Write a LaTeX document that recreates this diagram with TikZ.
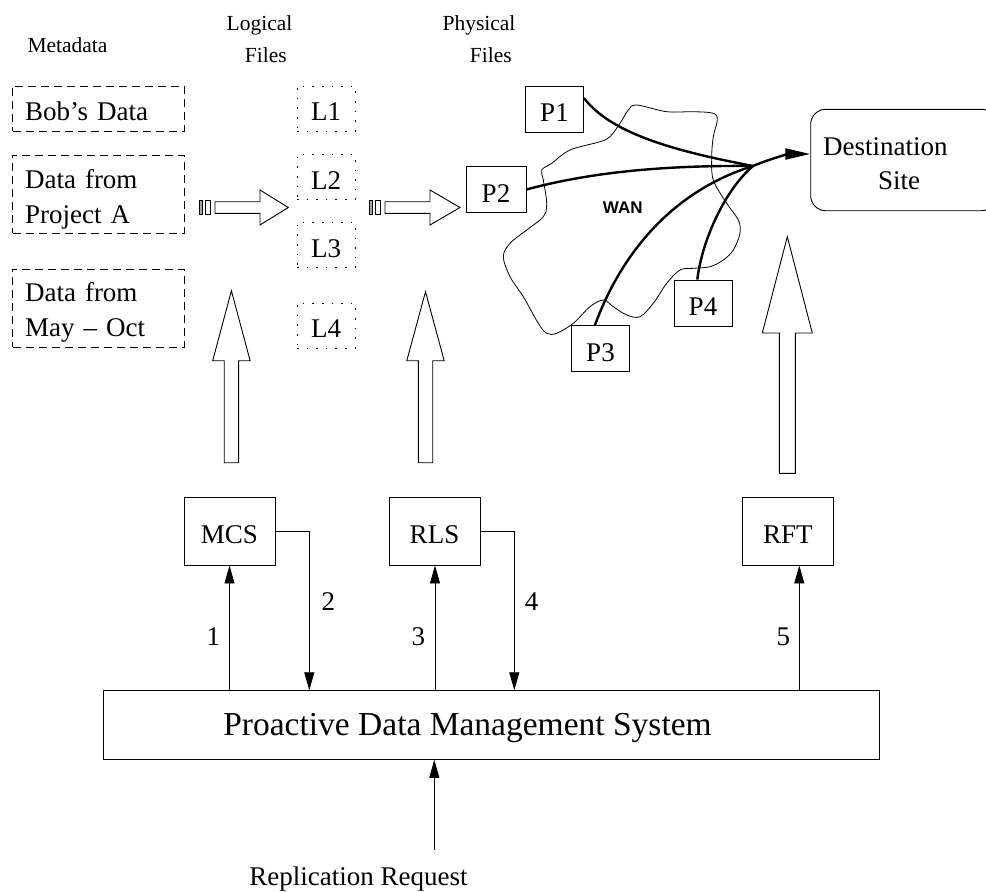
\documentclass[tikz,border=0pt]{standalone}
\usepackage{fontspec}
\setmainfont{Liberation Serif}
\newfontfamily\wanfont{Liberation Sans}
\usetikzlibrary{arrows.meta}
\newcommand{\boxfont}{\fontsize{27}{35}\selectfont}
\newcommand{\headfont}{\fontsize{21.5}{28}\selectfont}
\newcommand{\sysfont}{\fontsize{33.5}{40}\selectfont}

\begin{document}
\begin{tikzpicture}[x=1pt,y=-1pt,
  every node/.style={font=\boxfont, inner sep=0pt},
  mdbox/.style={draw, line width=0.9pt, dash pattern=on 8pt off 5pt,
    text width=146.7pt, inner xsep=12.3pt, align=left, minimum height=45pt},
  lbox/.style={draw, line width=0.9pt, dash pattern=on 1.6pt off 8pt,
    minimum width=58pt, minimum height=45pt, text height=24.4pt, text depth=0pt},
  pbox/.style={draw, fill=white, line width=0.9pt, minimum width=58pt,
    minimum height=46pt, text height=25pt, text depth=0pt},
  svc/.style={draw, line width=0.9pt, minimum width=91pt, minimum height=68pt,
    text height=24.6pt, text depth=0pt},
  arr/.style={-{Triangle[length=18pt,width=10pt]}, line width=0.9pt},
  flow/.style={line width=2.4pt},
  hollow/.style={draw, fill=white, line width=0.9pt, line join=miter},
  tailfill/.style={draw, fill=gray!70, line width=0.6pt},
  tailopen/.style={draw, fill=white, line width=0.6pt}
]
\useasboundingbox (0,0) rectangle (986,892);

% column headings
\node[font=\headfont, anchor=base] (hmeta) at (67.5,52) {Metadata};
\node[font=\headfont, anchor=base] (hlog1) at (259.5,30) {Logical};
\node[font=\headfont, anchor=base] (hlog2) at (265.8,62) {Files};
\node[font=\headfont, anchor=base] (hphy1) at (479,30) {Physical};
\node[font=\headfont, anchor=base] (hphy2) at (490.8,62) {Files};

% metadata entries
\node[mdbox, text height=24.4pt, text depth=0pt] (md1) at (98.4,108.5) {Bob's Data};
\node[mdbox, minimum height=78pt] (md2) at (98.4,194) {\rule{0pt}{29.5pt}Data from\\Project A};
\node[mdbox, minimum height=78pt] (md3) at (98.4,308) {\rule{0pt}{27.5pt}Data from\\May -- Oct};

% logical files
\node[lbox] (l1) at (326,108.5) {L1};
\node[lbox] (l2) at (326,177) {L2};
\node[lbox] (l3) at (326,245) {L3};
\node[lbox] (l4) at (326,325.5) {L4};

% mapping arrows between the columns
\draw[tailfill] (199.3,200.7) rectangle (202.3,214);
\draw[tailopen] (205,200.7) rectangle (210.7,214);
\draw[hollow] (215,201.7) -- (260,201.7) -- (260,190) -- (288.3,207.5)
  -- (260,225) -- (260,213.3) -- (215,213.3) -- cycle;
\draw[tailfill] (369.3,200.7) rectangle (372.3,214);
\draw[tailopen] (375,200.7) rectangle (380.7,214);
\draw[hollow] (385,201.7) -- (430,201.7) -- (430,190) -- (460,207.5)
  -- (430,225) -- (430,213.3) -- (385,213.3) -- cycle;

% wide area network
\draw[line width=0.8pt] plot[smooth cycle, tension=0.55] coordinates {
  (636.7,105) (666.7,111.7) (693.3,111.7) (713.3,113.3) (717.3,120)
  (713.3,136.7) (711.7,156.7) (713.3,180) (726.7,203.3) (738.3,220)
  (740,233.3) (733.3,250) (723.3,260) (710,266.7) (693.3,268.3)
  (680,270) (666.7,283.3) (653.3,303.3) (640,316.7) (626.7,315)
  (613.3,306.7) (603.3,300) (590,306.7) (573.3,323.3) (556.7,333.3)
  (546.7,333.3) (538.3,323.3) (523.3,296.7) (510,276.7) (503.3,256.7)
  (510,243.3) (526.7,230) (543.3,216.7) (546.7,203.3) (543.3,180)
  (541.7,170) (551.7,163.3) (570,150) (600,141.7) (610,136.7)
  (620,123.3) (628.3,110)};
\node[font={\wanfont\fontsize{17}{20}\selectfont\bfseries}] (wan) at (622.8,207.5) {WAN};

% physical files
\node[pbox] (p1) at (554.5,109) {P1};
\node[pbox, minimum width=60pt] (p2) at (496,189.5) {P2};
\node[pbox] (p3) at (600.5,348.5) {P3};
\node[pbox] (p4) at (703,303) {P4};

% destination
\node[draw, line width=0.9pt, rounded corners=15pt, minimum width=186pt,
  minimum height=101.4pt] (dest) at (903.7,160) {};
\node[anchor=base west] (destt1) at (823,155) {Destination};
\node[anchor=base west] (destt2) at (878,189) {Site};

% transfers through the network
\coordinate (hub) at (753,166);
\draw[flow] ([yshift=11pt]p1.east) .. controls (612,135) and (680,152) .. (hub);
\draw[flow] (p2.east) .. controls (580,175) and (650,165) .. (hub);
\draw[flow] ([xshift=-5.5pt]p3.north) .. controls (615,270) and (660,195) .. (hub);
\draw[flow] ([xshift=-5.7pt]p4.north) .. controls (702,240) and (725,190) .. (hub);
\draw[flow, -{Triangle[length=25pt,width=11pt]}] (hub)
  .. controls (772,158) and (790,154) .. ([yshift=6pt]dest.west);

% services acting on the columns
\draw[hollow] (224.2,462.7) -- (224.2,360.7) -- (212.7,360.7) -- (231.4,290.7)
  -- (250.1,360.7) -- (238.6,360.7) -- (238.6,462.7) -- cycle;
\draw[hollow] (418.3,462.7) -- (418.3,360.7) -- (406.8,360.7) -- (425.5,291.7)
  -- (444.2,360.7) -- (432.7,360.7) -- (432.7,462.7) -- cycle;
\draw[hollow] (779.3,473.3) -- (779.3,333) -- (762.3,333) -- (787.3,236.7)
  -- (812.3,333) -- (795.3,333) -- (795.3,473.3) -- cycle;

\node[svc] (mcs) at (229.5,531) {MCS};
\node[svc] (rls) at (434.5,531) {RLS};
\node[svc] (rft) at (787.8,531) {RFT};

% management system
\node[draw, line width=0.9pt, minimum width=776pt, minimum height=68.6pt] (sys) at (491,725) {};
\node[font=\sysfont, anchor=base] (systext) at (467.5,735) {Proactive Data Management System};

% numbered interactions
\draw[arr] (mcs.south |- sys.north) -- (mcs.south);
\draw[arr] (mcs.east) -| (sys.north -| 309.3,0);
\draw[arr] ([xshift=0.5pt]rls.south |- sys.north) -- ([xshift=0.5pt]rls.south);
\draw[arr] (rls.east) -| (sys.north -| 514.3,0);
\draw[arr] ([xshift=11.5pt]rft.south |- sys.north) -- ([xshift=11.5pt]rft.south);
\node[anchor=base] (n1) at (213.3,645) {1};
\node[anchor=base] (n2) at (328.3,610.7) {2};
\node[anchor=base] (n3) at (418.3,645) {3};
\node[anchor=base] (n4) at (531.7,610.7) {4};
\node[anchor=base] (n5) at (783.3,645) {5};

% incoming request
\node[anchor=base] (req) at (358.5,885) {Replication Request};
\coordinate (reqtop) at (434.3,850);
\draw[arr] (reqtop) -- (reqtop |- sys.south);
\end{tikzpicture}
\end{document}
